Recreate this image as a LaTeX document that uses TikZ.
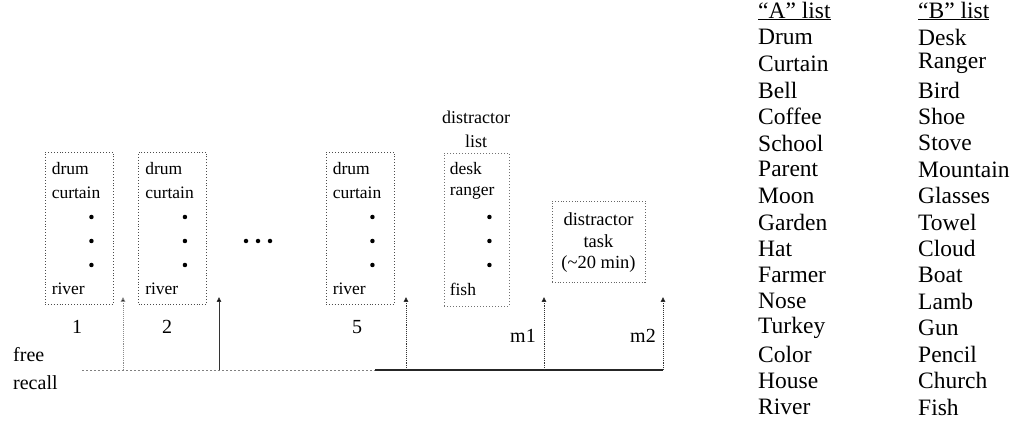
\documentclass[tikz,border=0pt]{standalone}
\usepackage{fontspec}
\setmainfont{Liberation Serif}
\usetikzlibrary{arrows.meta}
\begin{document}
\begin{tikzpicture}[x=1pt,y=-1pt,
  listframe/.style={draw=black!70, dotted, line width=0.9pt, inner sep=0pt,
    minimum width=68pt, minimum height=152pt},
  looseframe/.style={draw=black!55, dash pattern=on 0.8pt off 2.2pt, line width=0.9pt,
    inner sep=0pt, minimum width=65pt, minimum height=153pt},
  taskframe/.style={draw=black!60, dotted, line width=0.8pt, inner sep=0pt,
    minimum width=93pt, minimum height=81pt},
  boxword/.style={anchor=west, inner sep=0pt, font=\fontsize{17.5}{20}\selectfont},
  taskword/.style={inner sep=0pt, font=\fontsize{18.5}{22}\selectfont},
  lbl/.style={inner sep=0pt, font=\fontsize{20}{24}\selectfont},
  listword/.style={anchor=west, inner sep=0pt, font=\fontsize{23.5}{26}\selectfont},
  bullet/.style={circle, fill=black, inner sep=0pt, minimum size=4.5pt},
  recallarrow/.style={draw=black!80, densely dotted, line width=0.9pt,
    -{Triangle[width=4.5pt,length=5pt,fill=black]}},
  fainttrack/.style={draw=black!50, dash pattern=on 1.5pt off 2.5pt, line width=0.9pt},
  track/.style={draw=black!85, line width=1.4pt}
]
\useasboundingbox (0,0) rectangle (1018,422);

% study lists 1, 2 and 5
\foreach \n/\cx in {1/79, 2/172.5, 5/360} {
  \node[listframe] (box\n) at (\cx,228) {};
  \node[boxword] (drum\n) at ([xshift=7pt]box\n.west |- 0,169) {drum};
  \node[boxword] (curtain\n) at ([xshift=7pt]box\n.west |- 0,193) {curtain};
  \node[bullet] (d\n a) at ([xshift=-22pt]box\n.east |- 0,217) {};
  \node[bullet] (d\n b) at ([xshift=-22pt]box\n.east |- 0,241) {};
  \node[bullet] (d\n c) at ([xshift=-22pt]box\n.east |- 0,265) {};
  \node[boxword] (river\n) at ([xshift=7pt]box\n.west |- 0,289) {river};
}
\node[lbl] (n1) at (77,327) {1};
\node[lbl] (n2) at (167,327) {2};
\node[lbl] (n5) at (357,327) {5};

% ellipsis between list 2 and list 5
\node[bullet] (e1) at (246,241) {};
\node[bullet] (e2) at (258,241) {};
\node[bullet] (e3) at (270,241) {};

% distractor list
\node[lbl, font=\fontsize{18}{22}\selectfont] (dl1) at (476,117) {distractor};
\node[lbl, font=\fontsize{18}{22}\selectfont] (dl2) at (476,141) {list};
\node[looseframe] (dbox) at (476.5,229.5) {};
\node[boxword] (desk) at ([xshift=6pt]dbox.west |- 0,169) {desk};
\node[boxword] (ranger) at ([xshift=6pt]dbox.west |- 0,193) {ranger};
\node[bullet] (dd1) at ([xshift=-20pt]dbox.east |- 0,217) {};
\node[bullet] (dd2) at ([xshift=-20pt]dbox.east |- 0,241) {};
\node[bullet] (dd3) at ([xshift=-20pt]dbox.east |- 0,265) {};
\node[boxword] (fish) at ([xshift=6pt]dbox.west |- 0,289) {fish};

% distractor task
\node[taskframe] (tbox) at (598.5,241.5) {};
\node[taskword] (t1) at (598.5,219) {distractor};
\node[taskword] (t2) at (598.5,241) {task};
\node[taskword] (t3) at (598.5,264) {(\textasciitilde20 min)};

\node[lbl] (m1) at (523,336) {m1};
\node[lbl] (m2) at (643,336) {m2};

% free recall time line
\node[lbl, anchor=west] (free) at (13,355) {free};
\node[lbl, anchor=west] (recall) at (13,383) {recall};
\coordinate (tl0) at (82,370);
\coordinate (tl1) at (375,370);
\coordinate (tl2) at (663,370);
\draw[fainttrack] (tl0) -- (tl1);
\draw[track] (tl1) -- (tl2);

% recall test arrows
\foreach \k/\ax in {1/123, 2/219, 3/406, 4/544, 5/663} {
  \coordinate (r\k b) at (\ax,370);
  \coordinate (r\k t) at (\ax,297);
}
\draw[recallarrow, draw=black!45] (r1b) -- (r1t);
\draw[recallarrow, solid, line width=0.8pt] (r2b) -- (r2t);
\draw[recallarrow] (r3b) -- (r3t);
\draw[recallarrow] (r4b) -- (r4t);
\draw[recallarrow] (r5b) -- (r5t);

% word lists
\foreach \w [count=\i from 0] in {\underline{“A” list}, Drum, Curtain, Bell, Coffee, School,
  Parent, Moon, Garden, Hat, Farmer, Nose, Turkey, Color, House, River} {
  \node[listword] (a\i) at (758,{11+26.4*\i}) {\w};
}
\foreach \w [count=\i from 0] in {\underline{“B” list}, Desk, Ranger, Bird, Shoe, Stove,
  Mountain, Glasses, Towel, Cloud, Boat, Lamb, Gun, Pencil, Church, Fish} {
  \node[listword] (b\i) at (918,{11+26.4*\i}) {\w};
}
\end{tikzpicture}
\end{document}
